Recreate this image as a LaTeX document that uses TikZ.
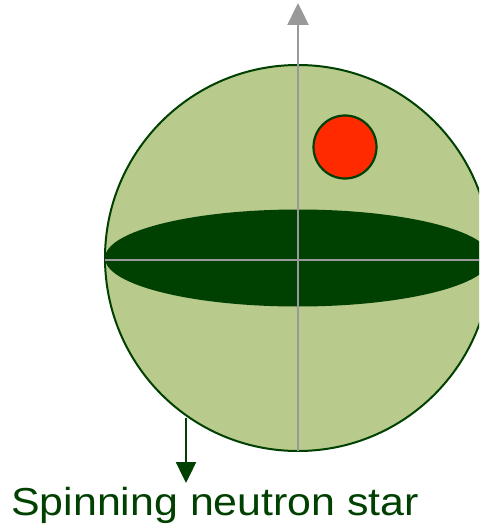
\documentclass[tikz,border=0pt]{standalone}
\usepackage{fontspec}
\setmainfont{Liberation Sans}
\usetikzlibrary{arrows.meta}
\definecolor{lightg}{RGB}{184,203,141}
\definecolor{darkg}{RGB}{0,64,0}
\definecolor{redc}{RGB}{255,42,0}
\definecolor{grayc}{RGB}{153,153,153}
\tikzset{
  star/.style={fill=lightg,draw=darkg,line width=2pt},
  band/.style={fill=darkg},
  spot/.style={fill=redc,draw=darkg,line width=2.2pt},
  axis/.style={draw=grayc,line width=2.4pt},
  pointer/.style={draw=darkg,line width=2.4pt,-{Triangle[length=21pt,width=20pt]}},
  label/.style={text=darkg,font=\fontsize{39}{45}\selectfont,inner sep=0pt,anchor=base west}
}
\begin{document}
\begin{tikzpicture}[x=1pt,y=-1pt]
\clip (0,0) rectangle (479,527);
\fill[white] (0,0) rectangle (479,527);
\draw[star] (298,258) circle[radius=193];
\fill[band] (298,258) ellipse[x radius=193,y radius=48.5];
\draw[spot] (345,147) circle[radius=31.5];
\coordinate (hl) at (105,260);
\coordinate (hr) at (490,260);
\coordinate (vb) at (298,451);
\coordinate (vt) at (298,3);
\draw[axis] (hl) -- (hr);
\draw[axis,-{Triangle[length=22pt,width=21pt]}] (vb) -- (vt);
\node[label] (lab) at (11,515) {\scalebox{1.1}[1]{Spinning neutron star}};
\coordinate (ps) at (186,418);
\coordinate (pe) at (186,483);
\draw[pointer] (ps) -- (pe);
\end{tikzpicture}
\end{document}
